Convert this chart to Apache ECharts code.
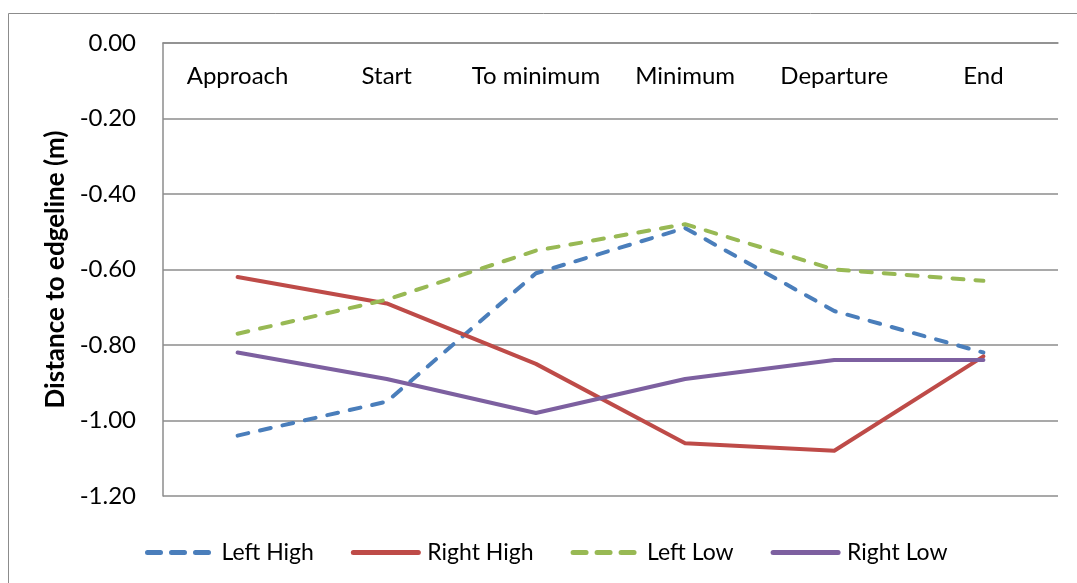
<!DOCTYPE html>
<html>
<head>
<meta charset="utf-8">
<title>Distance to edgeline</title>
<script src="https://cdn.jsdelivr.net/npm/echarts@6/dist/echarts.min.js"></script>
<style>
  html, body { margin: 0; padding: 0; background: #ffffff; }
  #chart { width: 1077px; height: 583px; }
</style>
</head>
<body>
<div id="chart"></div>
<script>
// Phases of the manoeuvre along the category axis
const categories = ['Approach', 'Start', 'To minimum', 'Minimum', 'Departure', 'End'];

// Mean distance to the edgeline (m) per condition
const leftHigh  = [-1.04, -0.95, -0.61, -0.49, -0.71, -0.82];
const rightHigh = [-0.62, -0.69, -0.85, -1.06, -1.08, -0.83];
const leftLow   = [-0.77, -0.68, -0.55, -0.48, -0.60, -0.63];
const rightLow  = [-0.82, -0.89, -0.98, -0.89, -0.84, -0.84];

// Value axis range and step
const yMin = -1.2;
const yMax = 0;
const yStep = 0.2;

const FONT = 'Lato, "Open Sans", sans-serif';
const GRID_GREY = '#8c8c8c';
const DASH = [11, 12];

const COLORS = {
  'Left High': '#4a7ebb',
  'Right High': '#be4b48',
  'Left Low': '#98b954',
  'Right Low': '#7d60a0'
};

const chart = echarts.init(document.getElementById('chart'), null, { renderer: 'canvas' });

function lineSeries(name, data, dashed) {
  return {
    name: name,
    type: 'line',
    data: data,
    symbol: 'none',
    showSymbol: false,
    lineStyle: {
      color: COLORS[name],
      width: 4,
      type: dashed ? DASH : 'solid',
      cap: 'round',
      join: 'round'
    },
    itemStyle: { color: COLORS[name] },
    emphasis: { disabled: true }
  };
}

// Legend entries: line sample only, no marker
function legendItem(name, dashed) {
  return {
    name: name,
    itemStyle: { opacity: 0 },
    lineStyle: {
      color: COLORS[name],
      width: 5,
      type: dashed ? [13, 11] : 'solid',
      cap: 'round',
      opacity: 1
    }
  };
}

chart.setOption({
  animation: false,
  backgroundColor: '#ffffff',
  graphic: [{
    type: 'rect',
    shape: { x: 8.5, y: 13.5, width: 1200, height: 700 },
    style: { fill: 'none', stroke: GRID_GREY, lineWidth: 1 },
    silent: true
  }],
  grid: { left: 163, right: 19, top: 43, bottom: 87, containLabel: false },
  legend: {
    data: [
      legendItem('Left High', true),
      legendItem('Right High', false),
      legendItem('Left Low', true),
      legendItem('Right Low', false)
    ],
    bottom: 14,
    left: 140,
    itemWidth: 65,
    itemHeight: 14,
    itemGap: 37,
    textStyle: { fontFamily: FONT, fontSize: 23, color: '#000000', padding: [0, 0, 0, 4] }
  },
  xAxis: {
    type: 'category',
    data: categories,
    position: 'top',
    boundaryGap: true,
    axisLine: { show: true, lineStyle: { color: GRID_GREY, width: 1.5 } },
    axisTick: { show: false },
    axisLabel: {
      inside: true,
      interval: 0,
      margin: 21,
      fontFamily: FONT,
      fontSize: 24,
      color: '#000000'
    },
    splitLine: { show: false }
  },
  yAxis: {
    type: 'value',
    min: yMin,
    max: yMax,
    interval: yStep,
    name: 'Distance to edgeline (m)',
    nameLocation: 'middle',
    nameRotate: 90,
    nameGap: 89,
    nameTextStyle: { fontFamily: FONT, fontSize: 26, fontWeight: 'bold', color: '#000000' },
    axisLine: { show: true, lineStyle: { color: GRID_GREY, width: 1.5 } },
    axisTick: { show: false },
    axisLabel: {
      margin: 27,
      fontFamily: FONT,
      fontSize: 24,
      color: '#000000',
      formatter: function (v) { return v.toFixed(2); }
    },
    splitLine: { show: true, lineStyle: { color: GRID_GREY, width: 1.5 } }
  },
  series: [
    lineSeries('Left High', leftHigh, true),
    lineSeries('Right High', rightHigh, false),
    lineSeries('Left Low', leftLow, true),
    lineSeries('Right Low', rightLow, false)
  ]
});
</script>
</body>
</html>
